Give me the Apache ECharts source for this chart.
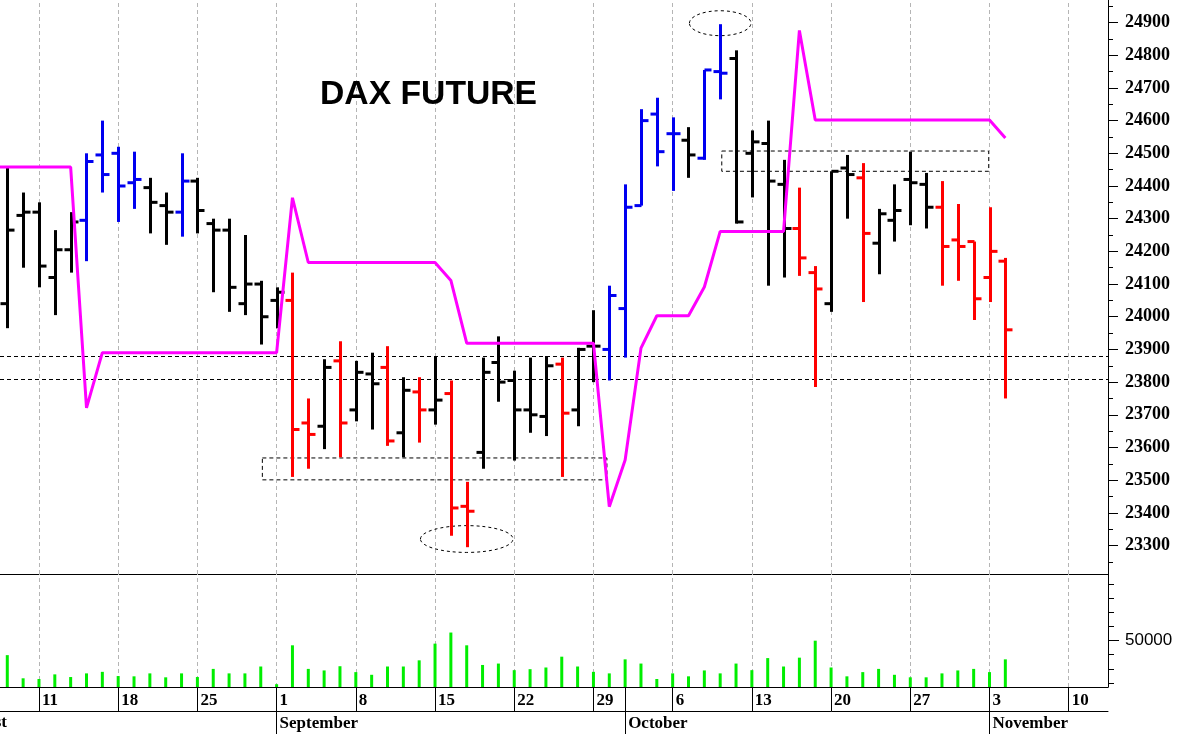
<!DOCTYPE html>
<html><head><meta charset="utf-8">
<script src="https://cdn.jsdelivr.net/npm/echarts@6/dist/echarts.min.js"></script>
<style>html,body{margin:0;padding:0;background:#fff}#c{width:1180px;height:734px}</style>
</head><body><div id="c"></div>
<script>
// ---------- DATA ----------
const dates = ['2025-08-07','2025-08-08','2025-08-11','2025-08-12','2025-08-13','2025-08-14','2025-08-15','2025-08-18','2025-08-19','2025-08-20','2025-08-21','2025-08-22','2025-08-25','2025-08-26','2025-08-27','2025-08-28','2025-08-29','2025-09-01','2025-09-02','2025-09-03','2025-09-04','2025-09-05','2025-09-08','2025-09-09','2025-09-10','2025-09-11','2025-09-12','2025-09-15','2025-09-16','2025-09-17','2025-09-18','2025-09-19','2025-09-22','2025-09-23','2025-09-24','2025-09-25','2025-09-26','2025-09-29','2025-09-30','2025-10-01','2025-10-02','2025-10-03','2025-10-06','2025-10-07','2025-10-08','2025-10-09','2025-10-10','2025-10-13','2025-10-14','2025-10-15','2025-10-16','2025-10-17','2025-10-20','2025-10-21','2025-10-22','2025-10-23','2025-10-24','2025-10-27','2025-10-28','2025-10-29','2025-10-30','2025-10-31','2025-11-03','2025-11-04'];
const openP  = [24040,24310,24320,24120,24205,24295,24495,24500,24410,24395,24340,24320,24415,24285,24265,24040,24100,24050,24050,23675,23665,23865,23715,23825,23845,23645,23770,23715,23765,23420,23585,23860,23805,23715,23695,23855,23715,23910,23900,24025,24340,24620,24560,24540,24485,24750,24790,24500,24530,24405,24270,24135,24040,24455,24425,24225,24295,24420,24405,24335,24235,24230,24120,24170];
const highP  = [24455,24380,24350,24265,24320,24500,24600,24520,24505,24425,24380,24500,24425,24300,24300,24250,24110,24090,24135,23750,23870,23925,23865,23890,23910,23815,23815,23880,23805,23495,23875,23940,23835,23875,23880,23875,23905,24020,24095,24405,24635,24670,24610,24580,24755,24895,24815,24570,24600,24480,24395,24155,24445,24495,24470,24330,24405,24505,24440,24415,24345,24230,24335,24180];
const lowP   = [23965,24150,24090,24005,24135,24170,24380,24290,24330,24255,24220,24245,24255,24075,24015,24005,23915,23965,23510,23535,23595,23570,23680,23655,23605,23570,23615,23670,23330,23295,23535,23740,23560,23645,23635,23510,23665,23800,23805,23875,24340,24460,24385,24425,24480,24665,24285,24365,24095,24120,24125,23785,24015,24300,24045,24130,24230,24280,24270,24095,24110,23990,24045,23750];
const closeP = [24265,24320,24155,24205,24290,24475,24435,24400,24420,24350,24320,24415,24325,24265,24090,24100,24000,24075,23655,23640,23845,23675,23830,23795,23620,23775,23715,23745,23415,23405,23830,23800,23715,23700,23850,23705,23900,23910,24065,24335,24600,24505,24560,24495,24755,24745,24290,24535,24415,24270,24180,24085,24445,24435,24255,24315,24325,24410,24335,24215,24215,24055,24200,23960];
// bar colour trend per date: k = neutral (black), b = up (blue), r = down (red)
const barTrend = [
  'k','k',                 // Aug 7-8
  'k','k','k','b','b',     // Aug 11-15
  'b','b','k','k','b',     // Aug 18-22
  'k','k','k','k','k',     // Aug 25-29
  'k','r','r','k','r',     // Sep 1-5
  'k','k','r','k','r',     // Sep 8-12
  'k','r','r','k','k',     // Sep 15-19
  'k','k','k','r','k',     // Sep 22-26
  'k','b','b','b','b',     // Sep 29 - Oct 3
  'b','k','b','b','k',     // Oct 6-10
  'k','k','k','r','r',     // Oct 13-17
  'k','k','r','k','k',     // Oct 20-24
  'k','k','r','r','r',     // Oct 27-31
  'r','r'                  // Nov 3-4
];
const volume = [39700,23200,22700,26000,24100,26700,27800,24800,24600,26700,23900,26700,24100,29900,26700,26700,31600,19000,46700,29900,28800,31800,27600,25700,31600,31600,36000,47900,55800,46700,32700,33700,29000,29700,30900,38600,31600,27800,26700,36700,33700,22700,26700,24600,28800,26700,33700,29000,37600,31600,37900,50000,30900,24600,27600,29900,25700,23900,23900,26700,28800,29900,27600,36700];
// magenta stop line (starts one day earlier, 2025-08-06)
const stopDates = ['2025-08-06'].concat(dates);
const stopLine = [24458,24458,24458,24458,24458,24458,23721,23890,23890,23890,23890,23890,23890,23890,23890,23890,23890,23890,23890,24364,24166,24166,24166,24166,24166,24166,24166,24166,24166,24111,23919,23919,23919,23919,23919,23919,23919,23919,23919,23419,23562,23904,24003,24003,24003,24091,24261,24261,24261,24261,24261,24876,24602,24602,24602,24602,24602,24602,24602,24602,24602,24602,24602,24602,24547];
// horizontal reference levels
const refLevels = [23880, 23809];
// dashed zones: [start trading-index, end trading-index, low, high]
const zones = [[14.1, 35.85, 23501, 23568], [43.1, 59.95, 24445, 24507]];
// circled extremes: [date, price]
const circled = [['2025-09-17', 23320], ['2025-10-09', 24898]];
// axis labels
const weekStarts = ['2025-08-11','2025-08-18','2025-08-25','2025-09-01','2025-09-08','2025-09-15','2025-09-22','2025-09-29','2025-10-06','2025-10-13','2025-10-20','2025-10-27','2025-11-03','2025-11-10'];
const monthStarts = ['2025-09-01','2025-10-01','2025-11-03'];
const monthNames = ['September','October','November'];
const priceTicks = [23300,23400,23500,23600,23700,23800,23900,24000,24100,24200,24300,24400,24500,24600,24700,24800,24900];
const priceMinorTicks = [23250,23350,23450,23550,23650,23750,23850,23950,24050,24150,24250,24350,24450,24550,24650,24750,24850,24950];
const volLabels = [50000];
const volMinorTicks = [20000,30000,40000,60000,70000,80000,90000];

// ---------- helpers ----------
const BASE = Date.UTC(2025, 7, 11);
function tIdx(s) {
  const p = s.split('-').map(Number);
  const days = Math.round((Date.UTC(p[0], p[1]-1, p[2]) - BASE) / 864e5);
  const w = Math.floor(days / 7), r = days - 7*w;
  return w*5 + Math.min(r, 4);
}
const X_MIN = -2.46, X_MAX = 67.48;
const COLORS = {k:'#000000', b:'#0000f0', r:'#ff0000'};
const dayLabelMap = {}; weekStarts.forEach(d => dayLabelMap[tIdx(d)] = String(Number(d.slice(8))));
const monthLabelMap = {}; monthStarts.forEach((d,i) => monthLabelMap[tIdx(d)] = monthNames[i]);
const dayTickVals = weekStarts.map(tIdx).concat([tIdx('2025-10-01')]).sort((a,b)=>a-b);

const ohlcData = dates.map((d,i) => [tIdx(d), openP[i], highP[i], lowP[i], closeP[i]]);
const stopData = stopDates.map((d,i) => [tIdx(d), stopLine[i]]);
const volData = dates.map((d,i) => [tIdx(d), volume[i]]);
const gridMarks = weekStarts.map(d => ({xAxis: tIdx(d)}));
const gridStyle = {color:'#b5b5b5', width:1, type:[4,3]};

const serifBold = {fontFamily:'"Liberation Serif","Times New Roman",serif', fontWeight:'bold', color:'#000'};
const plain = v => String(v);

const chart = echarts.init(document.getElementById('c'), null, {renderer:'canvas'});
chart.setOption({
  animation: false,
  backgroundColor: '#fff',
  title: {text:'DAX FUTURE', left: 315, top: 73,
    textStyle:{fontFamily:'"Liberation Sans",Arial,sans-serif', fontWeight:'bold', fontSize:33.7, color:'#000'}},
  graphic: [{type:'text', right: 1173, top: 714, style:{text:'August', font:'bold 17px "Liberation Serif"', fill:'#000', textAlign:'right'}}],
  grid: [
    {left:0, right:72, top:0, height:574},
    {left:0, right:72, top:574, height:113}
  ],
  xAxis: [
    {gridIndex:0, type:'value', min:X_MIN, max:X_MAX, axisLine:{show:true, onZero:false, lineStyle:{color:'#000', width:1}},
     axisTick:{show:false}, axisLabel:{show:false}, splitLine:{show:false}},
    {gridIndex:1, type:'value', min:X_MIN, max:X_MAX, position:'bottom', axisLine:{show:true, onZero:false, lineStyle:{color:'#000', width:1}},
     axisTick:{show:true, customValues: dayTickVals, length:24, lineStyle:{color:'#000'}},
     axisLabel:{show:true, customValues: weekStarts.map(tIdx), formatter: v => dayLabelMap[Math.round(v)] || '',
       align:'left', padding:[0,0,0,3], margin:5, fontSize:17, ...serifBold},
     splitLine:{show:false}},
    {gridIndex:1, type:'value', min:X_MIN, max:X_MAX, position:'bottom', offset:24, axisLine:{show:true, onZero:false, lineStyle:{color:'#000', width:1}},
     axisTick:{show:true, customValues: monthStarts.map(tIdx), length:24, lineStyle:{color:'#000'}},
     axisLabel:{show:true, customValues: monthStarts.map(tIdx), formatter: v => monthLabelMap[Math.round(v)] || '',
       align:'left', padding:[0,0,0,3], margin:4, fontSize:17, ...serifBold},
     splitLine:{show:false}}
  ],
  yAxis: [
    {gridIndex:0, type:'value', position:'right', min:23213, max:24969, axisLine:{show:true, onZero:false, lineStyle:{color:'#000'}},
     axisTick:{show:true, customValues: priceTicks, length:10, lineStyle:{color:'#000'}},
     axisLabel:{show:true, customValues: priceTicks, formatter: plain, margin:17, fontSize:18, ...serifBold}, splitLine:{show:false}},
    {gridIndex:0, type:'value', position:'right', min:23213, max:24969, axisLine:{show:false, onZero:false},
     axisTick:{show:true, customValues: priceMinorTicks, length:5, lineStyle:{color:'#000'}},
     axisLabel:{show:false}, splitLine:{show:false}},
    {gridIndex:1, type:'value', position:'right', min:17000, max:97500, axisLine:{show:true, onZero:false, lineStyle:{color:'#000'}},
     axisTick:{show:true, customValues: volLabels, length:11, lineStyle:{color:'#000'}},
     axisLabel:{show:true, customValues: volLabels, formatter: plain, margin:17, fontSize:17, fontFamily:'"Liberation Sans",Arial,sans-serif', color:'#000'},
     splitLine:{show:false}},
    {gridIndex:1, type:'value', position:'right', min:17000, max:97500, axisLine:{show:false, onZero:false},
     axisTick:{show:true, customValues: volMinorTicks, length:6, lineStyle:{color:'#000'}},
     axisLabel:{show:false}, splitLine:{show:false}}
  ],
  series: [
    {type:'line', name:'stop', xAxisIndex:0, yAxisIndex:0, data: stopData, showSymbol:false, z:11,
     lineStyle:{color:'#ff00ff', width:3}, itemStyle:{color:'#ff00ff'},
     markLine:{silent:true, symbol:'none', label:{show:false}, animation:false, z:4,
       data: gridMarks.map(m => Object.assign({lineStyle:gridStyle}, m))
         .concat(refLevels.map(v => ({yAxis:v, lineStyle:{color:'#000', width:1, type:[4,3]}})))},
     markArea:{silent:true, label:{show:false},
       itemStyle:{color:'rgba(0,0,0,0)', borderColor:'#000', borderWidth:1, borderType:[4,3]},
       data: zones.map(z => [{xAxis:z[0], yAxis:z[3]}, {xAxis:z[1], yAxis:z[2]}])}
    },
    {type:'custom', name:'ohlc', xAxisIndex:0, yAxisIndex:0, data: ohlcData, z:10,
     encode:{x:0, y:[1,2,3,4]},
     renderItem: function(params, api) {
       const x = api.value(0);
       const pO = api.coord([x, api.value(1)]), pH = api.coord([x, api.value(2)]);
       const pL = api.coord([x, api.value(3)]), pC = api.coord([x, api.value(4)]);
       const col = COLORS[barTrend[params.dataIndex]];
       const cx = Math.round(pH[0]) + 0.5;
       const st = {stroke: col, lineWidth: 3};
       return {type:'group', children:[
         {type:'line', shape:{x1:cx, y1:pH[1], x2:cx, y2:pL[1]}, style:st},
         {type:'line', shape:{x1:cx-7, y1:pO[1], x2:cx, y2:pO[1]}, style:st},
         {type:'line', shape:{x1:cx, y1:pC[1], x2:cx+7, y2:pC[1]}, style:st}
       ]};
     }
    },
    {type:'custom', name:'circled', xAxisIndex:0, yAxisIndex:0, z:8,
     data: circled.map(c => [tIdx(c[0]), c[1]]),
     renderItem: function(params, api) {
       const p = api.coord([api.value(0), api.value(1)]);
       const s = api.size([2.92, 41]);
       return {type:'ellipse', shape:{cx:p[0], cy:p[1], rx: params.dataIndex === 0 ? s[0] : s[0]*0.665, ry: s[1]*(params.dataIndex === 0 ? 1 : 0.93)},
         style:{fill:'none', stroke:'#000', lineWidth:1, lineDash:[3,3]}};
     }
    },
    {type:'bar', name:'volume', xAxisIndex:1, yAxisIndex:2, data: volData, barWidth:3, z:10,
     itemStyle:{color:'#00ee00'},
     markLine:{silent:true, symbol:'none', label:{show:false}, animation:false, z:4,
       data: gridMarks.map(m => Object.assign({lineStyle:gridStyle}, m))}
    }
  ]
});
</script>
</body></html>
